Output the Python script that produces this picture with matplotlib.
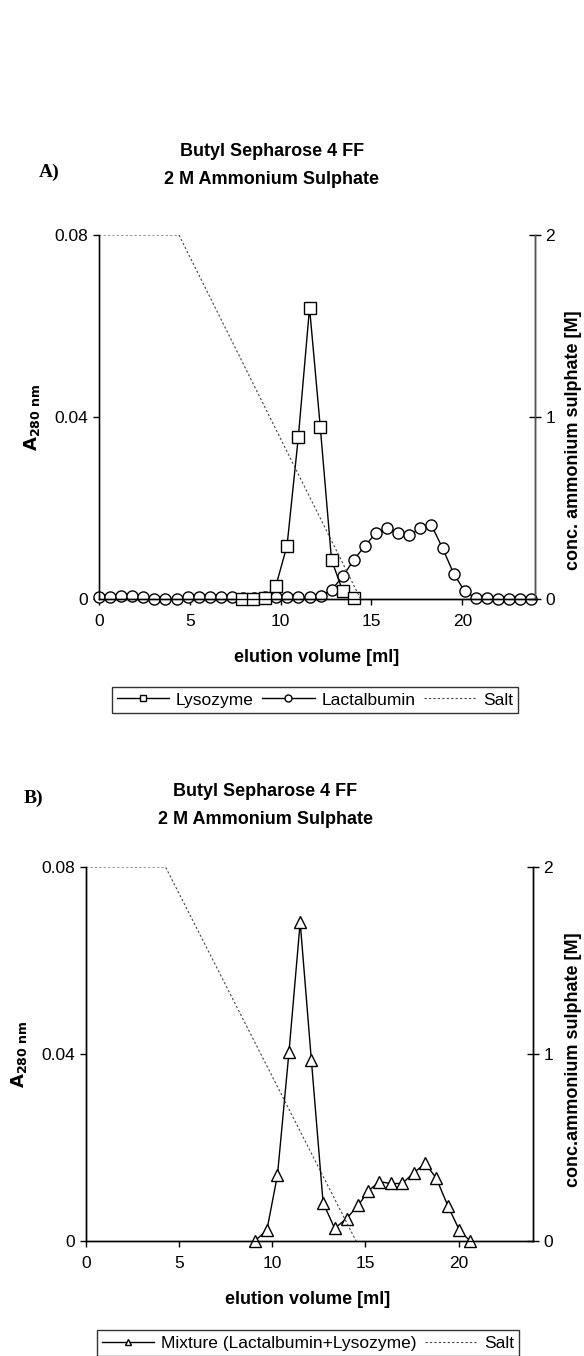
import matplotlib.pyplot as plt
from matplotlib.lines import Line2D

plt.rcParams['font.family'] = 'Liberation Sans'

# ---- data, panel A ----
lyso_x = [7.87, 8.5, 9.12, 9.73, 10.35, 10.97, 11.59, 12.18, 12.8, 13.42, 14.01]
lyso_y = [0.0, 0.0, 0.0002, 0.0028, 0.0117, 0.0355, 0.064, 0.0378, 0.0086, 0.0017, 0.0002]

lact_x = [0, 0.61, 1.22, 1.83, 2.44, 3.05, 3.66, 4.27, 4.88, 5.49,
          6.10, 6.71, 7.32, 7.93, 8.54, 9.15, 9.76, 10.37, 10.98, 11.59,
          12.20, 12.81, 13.42, 14.03, 14.64, 15.25, 15.86, 16.47, 17.08, 17.69,
          18.30, 18.91, 19.52, 20.13, 20.74, 21.35, 21.96, 22.57, 23.18, 23.79]
lact_y = [0.0004, 0.0004, 0.0006, 0.0006, 0.0004, 0, 0, 0, 0.0004, 0.0004,
          0.0004, 0.0004, 0.0004, 0.0002, 0.0002, 0.0004, 0.0004, 0.0004, 0.0004, 0.0004,
          0.0006, 0.002, 0.005, 0.0086, 0.0117, 0.0145, 0.0156, 0.0145, 0.014, 0.0155,
          0.0162, 0.0112, 0.0056, 0.0017, 0.0002, 0.0002, 0, 0, 0, 0]

salt_a_x = [0, 4.4, 14.4]
salt_a_y = [2, 2, 0]

# ---- data, panel B ----
mix_x = [9.06, 9.71, 10.28, 10.9, 11.5, 12.1, 12.73, 13.35, 13.99, 14.63,
         15.16, 15.74, 16.36, 16.98, 17.6, 18.22, 18.81, 19.43, 20.05, 20.62]
mix_y = [0.0, 0.0023, 0.0141, 0.0405, 0.0682, 0.0387, 0.0082, 0.0027, 0.0048, 0.0077,
         0.0107, 0.0127, 0.0123, 0.0123, 0.0146, 0.0166, 0.0134, 0.0075, 0.0023, 0.0]

salt_b_x = [0, 4.27, 14.5]
salt_b_y = [2, 2, 0]

x_ticks = [0, 5, 10, 15, 20]
y_ticks = [0, 0.04, 0.08]
y_ticklabels = ['0', '0.04', '0.08']
r_ticks = [0, 1, 2]

W, H = 584, 1356
fig = plt.figure(figsize=(W / 100, H / 100), dpi=100)

TICK_FS = 12.5
LEG_FS = 12.5
LAB_FS = 13
TITLE_FS = 13
YLAB = r'$\mathbf{A}_{\mathbf{280\ nm}}$'


def px_rect(l, t, r, b):
    return [l / W, 1 - b / H, (r - l) / W, (b - t) / H]


def setup_axes(ax, ax2, spine_col):
    ax.set_xlim(0, 24)
    ax.set_ylim(0, 0.08)
    ax2.set_ylim(0, 2)
    ax.set_xticks(x_ticks)
    ax.set_yticks(y_ticks)
    ax.set_yticklabels(y_ticklabels)
    ax2.set_yticks(r_ticks)
    for a in (ax, ax2):
        a.spines['top'].set_visible(False)
        for s in a.spines.values():
            s.set_linewidth(1.0)
    ax.spines['left'].set_color(spine_col)
    ax2.spines['right'].set_color(spine_col)
    ax.spines['bottom'].set_color('black')
    ax.tick_params(axis='y', direction='out', length=4, width=1, labelsize=TICK_FS, pad=4)
    ax.tick_params(axis='x', direction='out', length=4, width=1, labelsize=TICK_FS, pad=7)
    ax2.tick_params(axis='y', direction='inout', length=9, width=1, labelsize=TICK_FS, pad=3)


def legend_at(handles, labels, ncol, cx, cy):
    leg = fig.legend(handles, labels, ncol=ncol, loc='center',
                     bbox_to_anchor=(cx / W, 1 - cy / H),
                     fontsize=LEG_FS, frameon=True, fancybox=False, edgecolor='black',
                     handlelength=3.0, columnspacing=0.5, handletextpad=0.4,
                     borderpad=0.3, borderaxespad=0)
    leg.get_frame().set_linewidth(1.0)
    return leg


salt_style = dict(color='#444444', lw=0.8, ls=(0, (2, 2)))

# ================= Panel A =================
axA = fig.add_axes(px_rect(99, 235, 535, 599))
axA2 = axA.twinx()
setup_axes(axA, axA2, '#555555')

axA.plot(lyso_x, lyso_y, color='black', lw=1.0, marker='s', ms=9,
         mfc='white', mec='black', mew=1.0, clip_on=False, zorder=3)
axA.plot(lact_x, lact_y, color='black', lw=1.0, marker='o', ms=8,
         mfc='white', mec='black', mew=1.0, clip_on=False, zorder=2)
axA2.plot(salt_a_x, salt_a_y, **salt_style)

fig.text(272 / W, 1 - 152 / H, 'Butyl Sepharose 4 FF', ha='center', va='center',
         fontsize=TITLE_FS, fontweight='bold')
fig.text(272 / W, 1 - 180 / H, '2 M Ammonium Sulphate', ha='center', va='center',
         fontsize=TITLE_FS, fontweight='bold')
fig.text(39 / W, 1 - 172 / H, 'A)', ha='left', va='center', fontsize=14,
         fontweight='bold', family='Liberation Serif')
fig.text(317 / W, 1 - 658 / H, 'elution volume [ml]', ha='center', va='center',
         fontsize=LAB_FS, fontweight='bold')
fig.text(32 / W, 1 - 417 / H, YLAB, ha='center', va='center', rotation=90, fontsize=13)
fig.text(574 / W, 1 - 440 / H, 'conc. ammonium sulphate [M]', ha='center', va='center',
         rotation=90, fontsize=LAB_FS, fontweight='bold')

handlesA = [
    Line2D([], [], color='black', lw=1.0, marker='s', ms=5, mfc='white', mec='black'),
    Line2D([], [], color='black', lw=1.0, marker='o', ms=5, mfc='white', mec='black'),
    Line2D([], [], **salt_style),
]
legend_at(handlesA, ['Lysozyme', 'Lactalbumin', 'Salt'], 3, 315, 700)

# ================= Panel B =================
axB = fig.add_axes(px_rect(86, 867, 533, 1241))
axB2 = axB.twinx()
setup_axes(axB, axB2, 'black')

axB.plot(mix_x, mix_y, color='black', lw=1.0, marker='^', ms=9,
         mfc='white', mec='black', mew=1.0, clip_on=False, zorder=3)
axB2.plot(salt_b_x, salt_b_y, **salt_style)

fig.text(265 / W, 1 - 792 / H, 'Butyl Sepharose 4 FF', ha='center', va='center',
         fontsize=TITLE_FS, fontweight='bold')
fig.text(265 / W, 1 - 819 / H, '2 M Ammonium Sulphate', ha='center', va='center',
         fontsize=TITLE_FS, fontweight='bold')
fig.text(24 / W, 1 - 798 / H, 'B)', ha='left', va='center', fontsize=14,
         fontweight='bold', family='Liberation Serif')
fig.text(308 / W, 1 - 1300 / H, 'elution volume [ml]', ha='center', va='center',
         fontsize=LAB_FS, fontweight='bold')
fig.text(19 / W, 1 - 1054 / H, YLAB, ha='center', va='center', rotation=90, fontsize=13)
fig.text(573 / W, 1 - 1060 / H, 'conc.ammonium sulphate [M]', ha='center', va='center',
         rotation=90, fontsize=LAB_FS, fontweight='bold')

handlesB = [
    Line2D([], [], color='black', lw=1.0, marker='^', ms=5, mfc='white', mec='black'),
    Line2D([], [], **salt_style),
]
legend_at(handlesB, ['Mixture (Lactalbumin+Lysozyme)', 'Salt'], 2, 308, 1343)

fig.savefig('out.png', dpi=100)
